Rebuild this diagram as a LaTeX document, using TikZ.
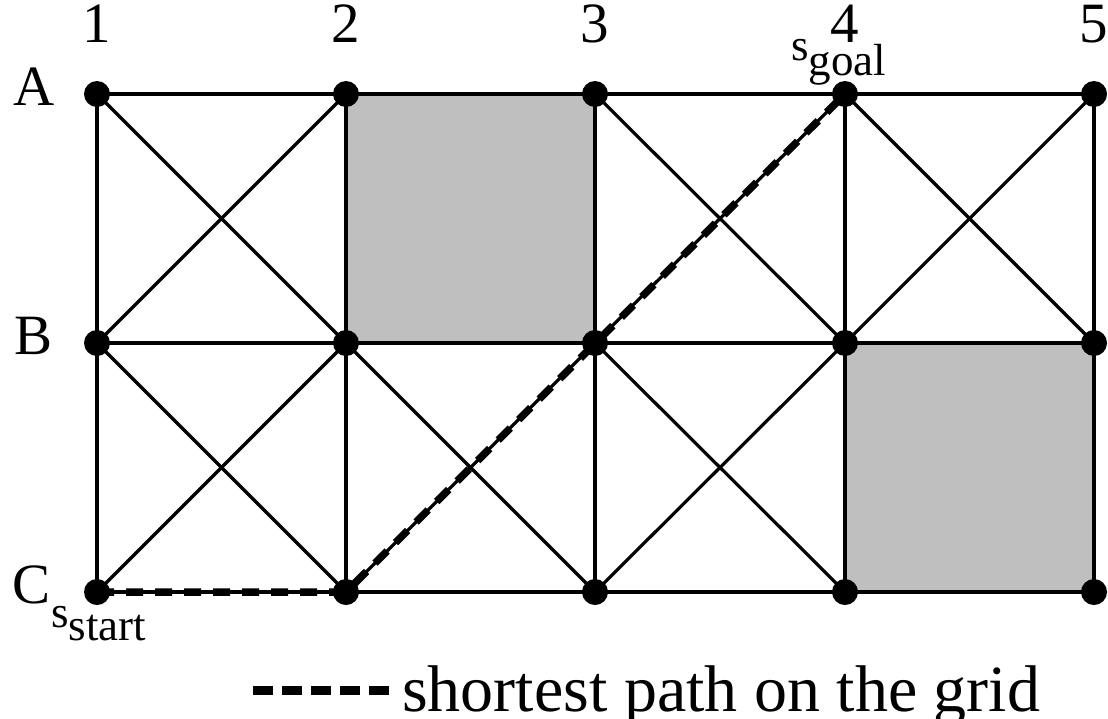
\documentclass[tikz,border=0pt]{standalone}
\usepackage{fontspec}
\setmainfont{Liberation Serif}
\tikzset{
  edge/.style={line width=3.2pt},
  pathline/.style={line width=7.5pt, dash pattern=on 17pt off 12pt},
  dot/.style={circle, fill=black, inner sep=0pt, minimum size=26pt},
  lbl/.style={font=\fontsize{57}{64}\selectfont, inner sep=0pt},
  sub/.style={font=\fontsize{45}{50}\selectfont, inner sep=0pt},
  legtxt/.style={font=\fontsize{66}{72}\selectfont, inner sep=0pt},
  shade/.style={fill=black!25}
}
\begin{document}
\begin{tikzpicture}[x=1pt,y=-1pt]
\useasboundingbox (0,0) rectangle (1108,718);
% grid points
\foreach \r/\yy in {A/94,B/343,C/592}{
  \foreach \c/\xx in {1/97,2/346,3/595,4/845,5/1094}{
    \coordinate (\r\c) at (\xx,\yy);
  }
}
% shaded cells
\fill[shade] (A2) rectangle (B3);
\fill[shade] (B4) rectangle (C5);
% horizontal and vertical edges
\foreach \r in {A,B,C}{
  \draw[edge] (\r1) -- (\r2) -- (\r3) -- (\r4) -- (\r5);
}
\foreach \c in {1,2,3,4,5}{
  \draw[edge] (A\c) -- (B\c) -- (C\c);
}
% diagonals
\foreach \a/\b/\c/\d in {A1/B2/A2/B1, A3/B4/A4/B3, A4/B5/A5/B4,
                         B1/C2/B2/C1, B2/C3/B3/C2, B3/C4/B4/C3}{
  \draw[edge] (\a) -- (\b);
  \draw[edge] (\c) -- (\d);
}
% shortest path
\draw[pathline] (C1) -- (C2) -- (A4);
% dots
\foreach \r in {A,B,C}{
  \foreach \c in {1,2,3,4,5}{
    \node[dot] (d\r\c) at (\r\c) {};
  }
}
% labels
\foreach \c/\xx in {1/97,2/346,3/595,4/845,5/1094}{
  \node[lbl, anchor=base] (n\c) at (\xx,42) {\c};
}
\node[lbl, anchor=base] (lA) at (34,105) {A};
\node[lbl, anchor=base] (lB) at (34,354) {B};
\node[lbl, anchor=base] (lC) at (32,603) {C};
\node[sub, anchor=base west] (sgoal) at (791,60) {s\raisebox{-15pt}{goal}};
\node[sub, anchor=base west] (sstart) at (51,627) {s\raisebox{-13pt}{start}};
% legend
\coordinate (legA) at (253,690);
\coordinate (legB) at (392,690);
\draw[line width=9pt, dash pattern=on 20pt off 9pt] (legA) -- (legB);
\node[legtxt, anchor=base west] (legtext) at (402,711) {shortest path on the grid};
\end{tikzpicture}
\end{document}
